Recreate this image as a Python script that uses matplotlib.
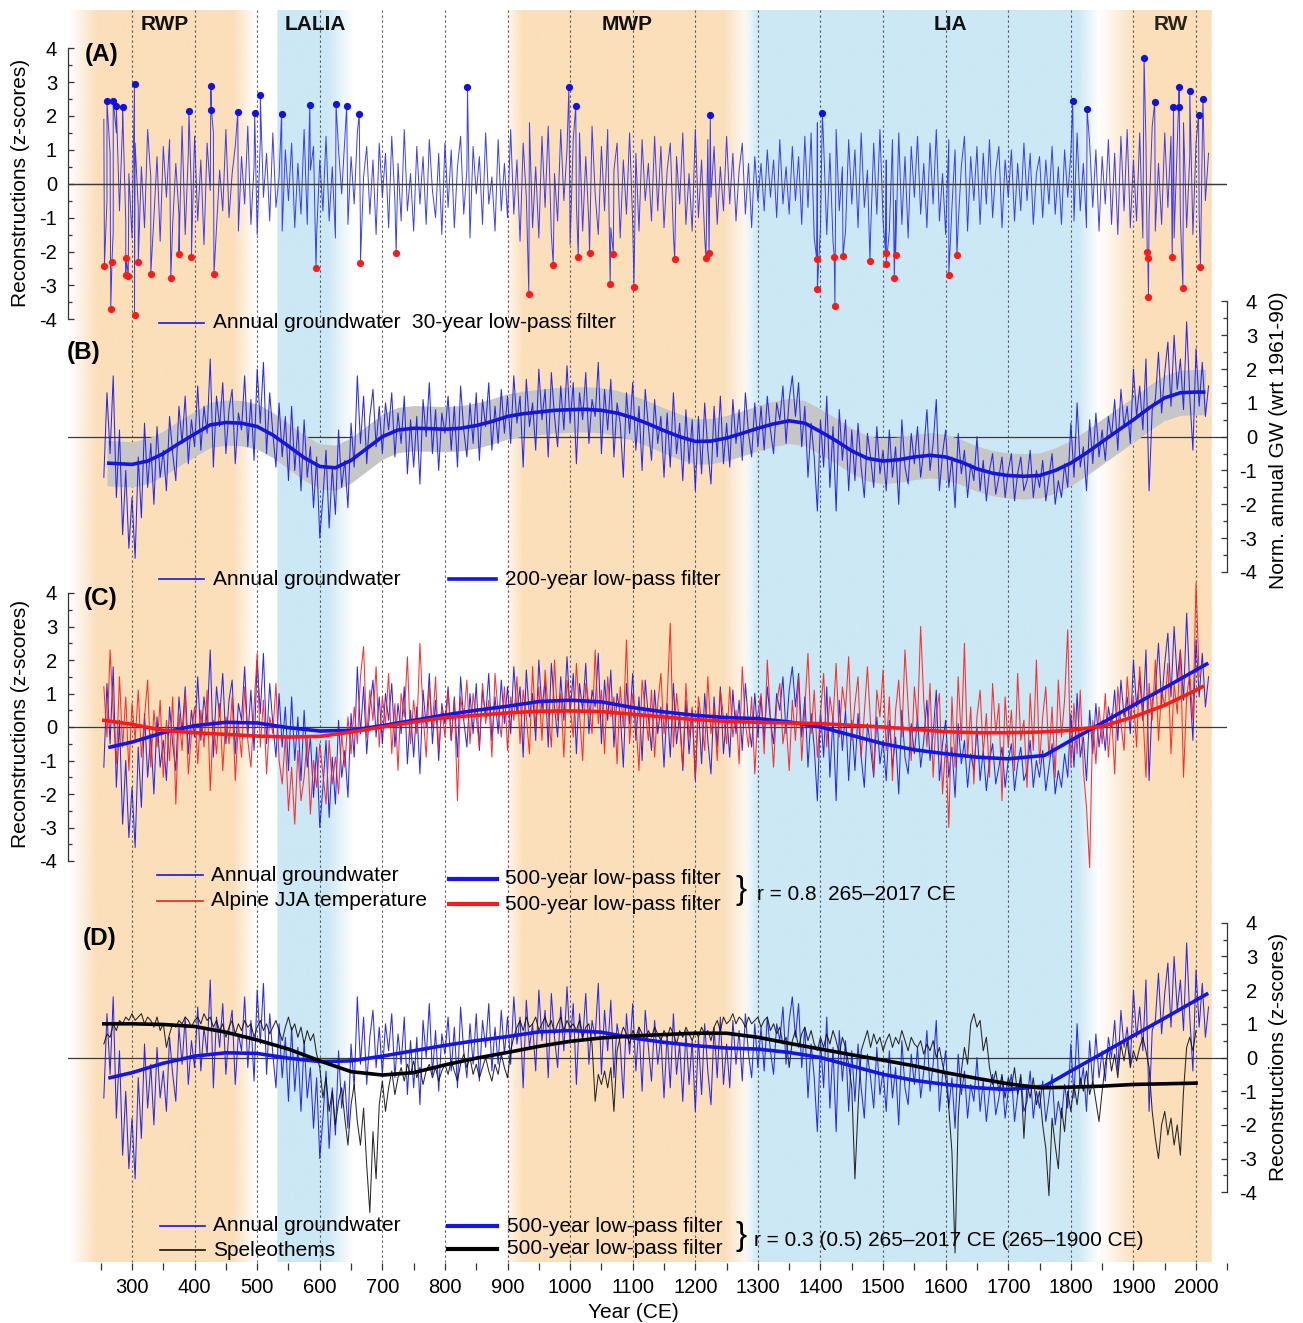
import numpy as np
import matplotlib
matplotlib.use('Agg')
import matplotlib.pyplot as plt
from matplotlib.colors import to_rgb
from matplotlib.lines import Line2D

plt.rcParams['font.family'] = ['Liberation Sans', 'DejaVu Sans']
plt.rcParams['axes.unicode_minus'] = False

# ---------------- DATA ----------------
START = 255   # first year of the 5-year sampled series
STEP = 5

# Panel A: high-pass annual groundwater (z-scores), sampled every 5 years
gw_hp = [
 1.9, -0.5, 0.9, -1.4, 1.5, -0.8, 1.8, -1.1, 0.3, -1.6,
 1.2, -0.7, 0.5, -1.3, 1.6, 0.2, -1.0, 0.8, -1.7, 1.1,
 -0.4, 1.3, -1.2, 0.6, -0.9, 1.7, -1.5, 0.9, -0.3, 1.4,
 -1.1, 0.7, -1.8, 1.2, -0.2, 1.5, -1.3, 0.4, -0.8, 1.6,
 -1.0, 0.3, 1.1, -1.4, 0.8, -0.6, 1.7, -1.2, 0.5, -1.5,
 1.3, -0.4, 0.9, -1.1, 1.5, -0.7, 0.2, -1.4, 1.0, -0.5,
 1.2, -1.3, 0.6, -0.9, 1.6, -1.2, 0.4, 1.1, -1.5, 0.7,
 -0.8, 1.4, -1.1, 0.5, -1.6, 1.0, -0.3, 1.3, -1.2, 0.8,
 -0.6, 1.5, -1.4, 0.2, 1.1, -0.9, 0.7, -1.5, 1.2, -0.4,
 0.9, -1.3, 1.4, -0.5, 0.6, -1.1, 1.6, -0.8, 0.3, -1.4,
 1.1, -0.6, 0.8, -1.2, 1.3, -0.2, -1.0, 0.9, -1.5, 1.2,
 -0.7, 1.0, -1.3, 0.5, 1.4, -0.9, 0.4, -1.6, 1.1, -0.3,
 0.8, -1.2, 1.5, -0.6, 0.2, -1.4, 1.3, -0.8, 0.6, -1.0,
 1.6, -0.9, 0.7, -1.7, 1.2, -0.4, 1.8, -1.3, 0.5, -1.6,
 1.4, -0.7, 1.7, -1.5, 0.3, -1.1, 1.6, -0.5, 1.0, -1.8,
 1.3, -0.6, 1.5, -1.4, 0.8, -1.2, 1.7, -0.3, -1.5, 1.1,
 -0.8, 1.6, -1.3, 0.4, 1.2, -1.6, 0.7, -0.9, 1.5, -1.2,
 0.9, -1.4, 1.3, -0.5, 0.6, -1.1, 1.4, -0.8, 1.1, -1.3,
 0.4, 1.2, -1.5, 0.8, -0.6, 1.5, -1.2, 0.3, -1.4, 1.6,
 -1.0, 0.7, -1.6, 1.3, -0.4, 1.1, -1.2, 0.5, -0.8, 1.4,
 -0.6, 0.9, -1.1, 0.4, 1.2, -0.9, 0.6, -1.3, 0.8, -0.5,
 0.6, -0.8, 1.0, -0.4, 0.7, -1.0, 1.3, -0.6, 0.5, -0.9,
 1.1, -0.5, 0.8, -1.2, 1.4, -0.7, 1.5, -1.6, 1.8, -1.3,
 1.2, -1.5, 0.9, -1.7, 1.6, -0.8, 0.5, -1.4, 1.3, -0.6,
 1.0, -1.3, 1.5, -0.7, 0.4, -1.5, 1.2, -0.9, 1.6, -1.1,
 0.7, -1.4, 1.3, -0.5, 1.5, -1.2, 0.8, -1.6, 1.1, -0.4,
 1.4, -0.9, 0.6, -1.3, 1.2, -0.6, 1.6, -1.1, 0.3, -1.5,
 1.3, -0.7, 1.0, -1.2, 0.5, 1.4, -1.4, 0.8, -0.5, 1.1,
 -1.2, 0.9, -0.6, 1.3, -1.0, 0.4, 1.1, -1.3, 0.7, -0.4,
 1.0, -1.1, 0.6, -0.8, 1.2, -0.5, 0.9, -1.2, 0.3, 0.8,
 -1.0, 0.7, -0.6, 1.1, -0.9, 0.5, -1.2, 1.0, -0.4, 0.9,
 -1.1, 1.5, -0.8, 0.6, -1.3, 1.2, -0.7, 1.0, -1.4, 0.8,
 -0.6, 1.3, -1.2, 0.9, -1.5, 1.4, -0.8, 1.6, -1.3, 0.7,
 -1.1, 1.5, -1.6, 1.2, -0.9, 1.7, -1.4, 0.6, -1.2, 1.5,
 -0.7, 1.4, -1.6, 1.1, -1.0, 1.8, -1.3, 0.8, -1.5, 1.2,
 -0.9, 1.4, -0.5, 0.9]

# Panel A extremes
wet_years = [260, 270, 275, 285, 304, 391, 426, 427, 469, 496, 505, 539, 584, 626,
             643, 663, 836, 998, 1009, 1224, 1403, 1803, 1826, 1917, 1934, 1964,
             1972, 1973, 1990, 2004, 2011]
wet_vals = [2.45, 2.45, 2.3, 2.25, 2.95, 2.14, 2.87, 2.18, 2.11, 2.08, 2.61, 2.07,
            2.32, 2.34, 2.3, 2.05, 2.85, 2.85, 2.28, 2.04, 2.1, 2.44, 2.19, 3.72,
            2.4, 2.27, 2.27, 2.85, 2.74, 2.04, 2.49]
dry_years = [256, 266, 268, 290, 291, 294, 304, 310, 330, 362, 375, 395, 431, 594,
             665, 722, 934, 973, 1013, 1031, 1064, 1069, 1102, 1167, 1217, 1222,
             1394, 1395, 1422, 1423, 1436, 1479, 1504, 1505, 1518, 1520, 1605,
             1618, 1922, 1923, 1924, 1962, 1979, 2007]
dry_vals = [-2.42, -3.7, -2.3, -2.7, -2.2, -2.72, -3.87, -2.32, -2.67, -2.79, -2.06,
            -2.16, -2.67, -2.5, -2.35, -2.04, -3.24, -2.39, -2.17, -2.03, -2.97,
            -2.06, -3.04, -2.23, -2.2, -2.05, -2.23, -3.12, -2.15, -3.61, -2.13,
            -2.28, -2.05, -2.37, -2.79, -2.11, -2.7, -2.11, -2.0, -2.19, -3.35,
            -2.17, -3.07, -2.47]

# Annual groundwater (panels B-D), sampled every 5 years
gw = [
 -1.2, 1.3, -0.5, 1.8, -1.8, 0.2, -2.9, -1.0, -3.3, -1.8,
 -3.6, -0.6, -2.4, 0.4, -1.5, -0.2, -2.0, 0.3, -1.2, -0.4,
 -1.6, 0.6, -0.5, -1.3, 0.9, -0.2, 1.2, -0.8, 0.5, -0.3,
 1.5, -0.4, 0.9, 0.1, 2.3, -0.9, 1.2, 0.3, 1.6, -0.5,
 0.8, 1.4, -0.8, 0.7, 0.2, 1.8, -0.3, 1.1, -0.7, 2.0,
 0.4, 2.2, -0.5, 1.3, 0.1, -0.9, 1.0, -0.6, 0.6, -1.3,
 0.9, -1.0, 0.3, -1.6, 0.5, -1.2, -0.3, -2.1, -0.6, -3.0,
 -1.8, -0.4, -2.7, -0.9, -2.3, 0.2, -1.5, -0.7, -2.1, 0.4,
 -0.9, 1.8, -0.2, 1.2, -0.8, 0.6, 1.4, -0.3, 0.9, -0.5,
 1.0, 0.2, 1.3, -0.6, 0.7, -0.2, 1.2, -1.1, 0.5, -0.9,
 0.6, -1.4, 1.1, 0.0, 1.6, -0.5, 0.8, -1.0, 0.7, 0.1,
 1.2, -0.4, 0.9, -0.9, 1.5, 0.2, -0.6, 1.0, -0.2, 1.3,
 -0.7, 1.1, 0.3, 1.6, -0.4, 0.9, -0.2, 1.4, 0.1, 1.2,
 -0.2, 1.8, 0.4, 1.2, -0.9, 1.7, 0.3, 1.0, -0.4, 2.0,
 0.5, 1.4, -0.6, 1.9, 0.6, -0.3, 1.5, 0.2, 2.1, 0.4,
 1.6, -0.8, 1.3, 0.5, 1.9, -0.2, 1.1, 0.6, 2.2, -0.5,
 1.4, 0.2, 1.7, -0.6, 1.0, 0.4, -1.2, 1.3, 0.1, 1.6,
 -0.4, 0.9, -1.0, 1.4, 0.3, -0.7, 1.1, -0.2, 0.6, -1.2,
 0.7, -0.9, 1.3, -0.5, 0.4, -1.3, 0.8, -0.8, 0.5, -1.6,
 0.6, -1.1, 1.0, -0.4, -1.4, 0.9, -0.6, 1.2, -0.8, 0.4,
 -0.9, 1.1, -0.2, 0.8, -0.7, 1.3, 0.1, -0.6, 1.0, -0.3,
 0.9, -0.4, 1.2, 0.2, -0.5, 1.0, 0.5, 1.5, -0.2, 1.1,
 1.8, 0.6, 1.6, -0.3, 0.9, -1.2, 0.4, -0.6, -2.2, 0.5,
 -0.9, 1.2, -1.5, 0.3, -2.2, 0.8, -0.7, 0.5, -1.6, 0.2,
 -1.3, 0.4, -0.9, -1.8, 0.1, -0.6, -1.5, 0.3, -1.1, -0.4,
 -1.6, 0.2, -1.2, -0.3, -2.0, 0.5, -0.9, -1.4, 0.1, -0.8,
 0.3, -1.2, -0.4, 0.8, -1.0, -0.2, 1.1, -1.6, -0.5, 0.2,
 -1.5, -0.6, -2.1, 0.1, -1.1, -0.4, -1.8, -0.8, -1.3, 0.0,
 -1.6, -0.7, -1.9, -1.0, -0.5, -1.7, -1.2, -0.6, -1.8, -1.0,
 -0.5, -1.9, -1.1, -0.6, -1.6, -1.3, -0.4, -1.8, -1.0, -1.5,
 -0.7, -1.9, -1.2, -0.5, -2.0, -1.3, -1.8, -0.8, -1.5, 0.4,
 -1.2, 1.0, -0.9, -0.3, -1.6, 0.5, -0.8, 0.7, -0.6, 0.2,
 -0.7, 0.6, 0.0, 1.1, -0.4, 1.4, 0.3, 0.9, -0.2, 2.0,
 0.6, 1.5, 0.2, 2.3, -1.6, 0.8, 1.1, 2.5, 0.7, 1.9,
 2.8, 0.9, 3.0, 1.4, 2.3, 0.8, 3.4, 1.2, -0.4, 2.6,
 0.9, 2.2, 0.6, 1.5]

# Alpine JJA temperature (panel C), sampled every 5 years
temp = [
 1.2, -0.3, 2.3, 0.4, -1.1, 1.5, -0.6, 0.9, -1.3, 0.7,
 -0.4, 1.1, -0.9, 0.3, 1.4, -1.2, 0.5, -0.6, 0.8, -1.5,
 0.2, -1.0, 0.9, -2.3, 0.4, -0.7, 1.0, -1.4, -0.2, 0.6,
 -1.1, 0.5, -0.6, 1.1, -1.9, 0.2, -0.8, 0.7, -1.3, 0.3,
 -0.5, 0.9, -1.6, 0.1, -0.9, 1.2, -0.4, -1.2, 0.6, 2.2,
 -0.6, 0.8, -1.4, 0.3, -0.2, 1.3, -1.0, -1.7, -0.3, -2.5,
 -1.2, -2.9, -0.7, -2.2, -1.5, -0.3, -2.6, -1.0, -1.8, -0.5,
 -1.4, -2.3, -0.4, -1.7, -0.9, -2.0, -0.2, -1.2, 0.3, -0.8,
 0.6, -0.5, 1.5, 2.4, -0.3, 1.1, 0.2, 1.8, -0.6, 0.9,
 0.1, 1.6, -0.8, 0.7, -1.3, 1.0, 0.3, 2.1, -0.5, 0.8,
 -0.2, 2.5, 0.4, -0.9, 1.2, 0.0, 1.5, -0.7, 0.6, -0.3,
 1.1, -0.4, 0.8, -2.2, 0.9, 0.2, 1.4, -0.5, 1.0, 0.3,
 -0.6, 1.3, 0.1, 0.8, -0.9, 1.6, 0.4, -0.3, 1.2, -0.7,
 0.9, 0.2, 1.5, -0.5, 1.1, 0.3, -0.8, 1.8, 0.0, 1.2,
 -0.4, 1.7, 0.5, -0.6, 2.0, 0.2, 1.0, -0.9, 1.4, 0.6,
 -0.3, 1.9, 0.4, -1.0, 1.3, 0.7, -0.2, 2.3, 0.1, 1.1,
 -0.8, 1.5, 0.3, 0.9, -1.1, 1.2, 0.0, 2.6, -0.5, 1.0,
 0.2, -1.3, 1.4, 0.5, -0.4, 1.1, -0.9, 0.7, 1.6, -0.2,
 0.8, 3.1, -0.6, 1.0, 0.1, -1.2, 1.3, -0.3, 0.6, -1.5,
 0.9, 0.2, -0.7, 1.5, -0.2, 0.6, -1.0, 1.1, 0.3, -0.5,
 1.2, -0.3, 0.5, -1.1, 1.8, 0.1, -0.6, 0.9, -1.4, 0.4,
 1.0, -0.8, 2.0, 0.3, -1.2, 0.7, 1.3, -0.5, 0.2, -1.3,
 0.8, -0.4, 1.5, -1.0, 0.6, 2.2, -0.2, 1.1, -0.9, 0.4,
 1.6, -0.6, 0.9, 0.2, 1.9, -0.3, 1.2, 0.5, 2.1, -0.4,
 0.7, 1.5, -0.9, 0.4, 1.8, 0.1, -1.4, 1.1, 0.3, 1.7,
 -0.7, 0.9, -1.6, 0.5, 1.4, -0.3, 2.3, 0.6, -1.0, 1.2,
 0.1, 3.0, 0.8, -0.6, 1.3, -1.5, 0.4, 1.0, -2.0, -0.5,
 -3.0, 0.9, -1.2, 1.5, -0.4, 2.5, -0.9, 0.6, -1.7, 0.3,
 1.1, -0.8, 0.4, -1.5, 1.3, -0.2, 0.7, -2.2, 0.9, -0.6,
 0.5, -1.3, 1.6, -0.4, 0.2, -1.8, 1.0, -0.7, 2.0, -1.1,
 0.3, 1.2, -0.9, 0.6, -1.5, 1.4, -0.3, 0.8, 2.9, -1.2,
 0.7, -0.8, 1.1, -1.3, -2.4, -4.2, 0.2, -1.1, 0.6, -0.5,
 1.0, -0.9, 0.4, -1.4, 1.2, 0.1, -0.7, 1.5, 0.3, 0.9,
 -0.6, 1.8, 0.5, -1.5, 1.3, 0.2, 2.0, -0.4, 1.1, 0.6,
 1.9, -0.8, 1.3, 0.4, 2.3, -1.5, 0.9, 1.6, 0.2, 4.3,
 1.5]

# Speleothems (panel D), sampled every 5 years
speleo = [
 0.4, 0.7, 0.6, 1.0, 0.8, 1.1, 1.0, 1.2, 1.1, 1.3,
 1.1, 1.2, 1.3, 1.0, 1.2, 1.1, 0.9, 1.2, 0.8, 1.0,
 0.3, 0.7, 1.0, 0.9, 1.1, 1.0, 1.2, 1.1, 0.9, 1.1,
 1.2, 1.0, 1.3, 1.1, 1.2, 0.9, 1.1, 0.8, 1.0, 0.6,
 0.9, 1.1, 0.7, 1.0, 0.8, 1.1, 0.9, 1.0, 0.6, 0.9,
 1.1, 0.8, 1.0, 0.7, 0.9, 1.1, 0.8, 0.5, 0.9, 1.2,
 0.8, 1.0, 0.6, 0.9, 0.4, 0.8, 0.5, 0.7, 0.1, -0.3,
 -1.2, -0.6, -1.6, -1.0, -2.0, -1.3, -0.9, -1.8, -2.6, -1.4,
 -0.8, -1.9, -2.6, -1.5, -3.2, -4.6, -2.2, -3.6, -1.4, -0.7,
 -1.6, -0.9, -0.4, -1.1, -0.6, -0.3, -0.7, -0.2, -0.5, -0.1,
 -0.6, -0.3, -0.8, -0.4, -0.2, -0.6, -0.3, -0.7, -0.4, -0.2,
 -0.5, -0.1, -0.4, -0.7, -0.2, 0.1, -0.3, 0.0, -0.5, -0.2,
 -0.6, -0.3, 0.0, -0.4, -0.7, -0.2, -0.5, 0.1, -0.3, -0.6,
 0.2, 0.6, 0.9, 1.1, 0.8, 1.2, 0.9, 1.0, 1.2, 0.8,
 1.0, 1.2, 0.9, 1.1, 0.7, 1.0, 1.2, 0.8, 1.1, 0.9,
 1.0, 0.8, 1.1, 0.6, 0.9, 1.0, 0.4, -1.3, -0.5, -0.8,
 -0.4, -0.9, -0.3, -1.6, 0.2, 0.6, 0.9, 0.7, 0.4, 0.8,
 0.6, 0.9, 0.7, 0.5, 0.8, 0.6, 0.9, 0.7, 0.5, 0.8,
 0.6, 0.9, 0.7, 0.4, 0.8, 0.6, 0.9, 0.7, 0.5, 0.8,
 0.6, 0.9, 0.7, 0.8, 0.5, 0.9, 1.1, 0.8, 1.2, 1.0,
 1.1, 1.3, 1.0, 1.2, 1.1, 0.9, 1.2, 1.0, 1.1, 1.2,
 0.9, 1.1, 1.2, 0.8, 1.0, 0.7, 0.9, 0.4, 0.6, -0.3,
 0.5, 0.8, 0.3, 0.7, 0.9, 0.5, 0.8, 0.4, 0.2, 0.6,
 0.3, 0.7, 0.4, 0.8, 0.5, 0.1, 0.6, 0.3, -0.2, -0.9,
 -3.6, -1.5, 0.2, 0.5, 0.8, 0.3, 0.7, 0.4, 0.6, 0.2,
 0.5, 0.7, 0.3, 0.6, 0.4, 0.8, 0.5, 0.2, 0.6, 0.4,
 0.3, 0.5, 0.1, 0.4, 0.2, 0.5, 0.0, 0.3, -0.2, -0.6,
 -1.5, -2.8, -5.8, -1.8, -0.4, 0.3, -0.2, 1.0, 1.3, 0.9,
 1.1, 0.2, 0.6, -0.3, -0.8, -0.4, -1.0, -0.5, -1.2, -0.6,
 -0.9, -0.3, -1.1, -0.5, -2.4, -0.8, -1.2, -0.6, -1.4, -1.0,
 -2.0, -2.7, -4.1, -1.8, -2.6, -3.3, -1.5, -2.2, -1.0, -1.6,
 -0.8, -1.4, -0.6, -1.0, -0.4, -1.1, -0.7, -1.3, -1.9, -1.0,
 -0.2, 0.3, -0.4, 0.1, -0.6, 0.4, -0.1, 0.5, -0.3, 0.2,
 -0.1, 0.3, 0.6, 0.2, -0.3, -1.6, -2.4, -3.0, -2.0, -1.6,
 -2.3, -1.8, -2.6, -2.0, -2.9, -1.0, 0.3, 0.6, 0.2, 0.8]

# 200-year low-pass filter of groundwater (panel B)
lp200_years = [260, 300, 325, 350, 375, 400, 425, 450, 475, 500, 525, 550, 575, 600,
               625, 650, 675, 700, 725, 750, 775, 800, 825, 850, 875, 900, 925, 950,
               975, 1000, 1025, 1050, 1075, 1100, 1125, 1150, 1175, 1200, 1225, 1250,
               1275, 1300, 1325, 1350, 1375, 1400, 1425, 1450, 1475, 1500, 1525, 1550,
               1575, 1600, 1625, 1650, 1675, 1700, 1725, 1750, 1775, 1800, 1825, 1850,
               1875, 1900, 1925, 1950, 1975, 2000, 2015]
lp200_vals = [-0.78, -0.82, -0.72, -0.5, -0.2, 0.08, 0.35, 0.42, 0.4, 0.3, 0.05, -0.28,
              -0.62, -0.88, -0.92, -0.7, -0.35, 0.0, 0.2, 0.25, 0.24, 0.22, 0.25, 0.33,
              0.45, 0.6, 0.68, 0.73, 0.78, 0.8, 0.81, 0.78, 0.7, 0.56, 0.38, 0.18, 0.0,
              -0.14, -0.13, -0.04, 0.1, 0.25, 0.38, 0.47, 0.4, 0.15, -0.12, -0.42, -0.64,
              -0.72, -0.68, -0.6, -0.55, -0.6, -0.75, -0.95, -1.08, -1.15, -1.17, -1.15,
              -1.0, -0.78, -0.48, -0.15, 0.18, 0.5, 0.85, 1.15, 1.3, 1.32, 1.32]
lp200_band = 0.67

# 500-year low-pass filters (panels C, D)
gw500_years = [265, 300, 350, 400, 450, 500, 550, 600, 650, 700, 750, 800, 850, 900,
               950, 1000, 1050, 1100, 1150, 1200, 1250, 1300, 1350, 1400, 1450, 1500,
               1550, 1600, 1650, 1700, 1758, 1800, 1850, 1900, 1950, 2000, 2017]
gw500_vals = [-0.6, -0.45, -0.17, 0.04, 0.14, 0.12, -0.02, -0.12, -0.1, 0.04, 0.2,
              0.36, 0.5, 0.62, 0.76, 0.8, 0.75, 0.58, 0.45, 0.35, 0.28, 0.25, 0.15,
              0.0, -0.25, -0.5, -0.68, -0.8, -0.9, -0.95, -0.85, -0.4, 0.12, 0.65,
              1.17, 1.7, 1.88]
t500_years = [255, 300, 350, 400, 450, 500, 550, 600, 650, 700, 750, 800, 850, 900,
              950, 1000, 1050, 1100, 1150, 1200, 1250, 1300, 1350, 1400, 1450, 1500,
              1550, 1600, 1650, 1700, 1750, 1800, 1850, 1900, 1950, 2000, 2010]
t500_vals = [0.2, 0.08, -0.1, -0.17, -0.22, -0.27, -0.3, -0.28, -0.15, 0.0, 0.15,
             0.28, 0.35, 0.42, 0.47, 0.48, 0.46, 0.38, 0.3, 0.22, 0.17, 0.14, 0.12,
             0.1, 0.05, 0.0, -0.07, -0.14, -0.17, -0.17, -0.15, -0.1, 0.02, 0.3, 0.65,
             1.1, 1.2]
sp500_years = [255, 300, 350, 400, 450, 500, 550, 600, 650, 700, 750, 800, 850, 900,
               950, 1000, 1050, 1100, 1150, 1200, 1250, 1300, 1350, 1400, 1450, 1500,
               1550, 1600, 1650, 1700, 1750, 1800, 1850, 1900, 1950, 2000]
sp500_vals = [1.0, 1.0, 0.98, 0.92, 0.75, 0.52, 0.25, -0.1, -0.42, -0.52, -0.45, -0.22,
              -0.02, 0.15, 0.33, 0.48, 0.58, 0.64, 0.68, 0.72, 0.72, 0.6, 0.42, 0.25,
              0.08, -0.08, -0.25, -0.45, -0.62, -0.78, -0.9, -0.88, -0.85, -0.8, -0.78,
              -0.76]

# Climate periods: (label, fade-in start, full start, full end, fade-out end, colour)
periods = [
    ('RWP', 200, 245, 462, 500, '#fbdfba'),
    ('LALIA', 532, 533, 612, 655, '#cce8f5'),
    ('MWP', 893, 925, 1245, 1288, '#fbdfba'),
    ('LIA', 1278, 1300, 1812, 1845, '#cce8f5'),
    ('RW', 1845, 1905, 2025, 2025.5, '#fbdfba'),
]
period_label_x = [165, 315, 627, 950, 1171]

# ---------------- LAYOUT ----------------
W, H = 1303, 1323
X300, PPY = 132.0, 0.6259     # pixel of year 300, pixels per year
XL = (198, 2050)
L = 7.0

def xpx(yr):
    return X300 + (yr - 300) * PPY

fig = plt.figure(figsize=(W / 100, H / 100), dpi=100)

def T(x, y, s, **kw):
    return fig.text(x / W, 1 - y / H, s, **kw)

def legline(x1, x2, y, **kw):
    fig.add_artist(Line2D([x1 / W, x2 / W], [1 - y / H, 1 - y / H], **kw))

# background: period shading + dotted century lines
bg = fig.add_axes([0, 0, 1, 1])
for (lab, a, b, c, d, col) in periods:
    xs = np.linspace(a, d, 800)
    al = np.ones_like(xs)
    if b > a:
        al = np.where(xs < b, (xs - a) / (b - a), al)
    if d > c:
        al = np.where(xs > c, (d - xs) / (d - c), al)
    al = np.clip(al, 0, 1)
    img = np.zeros((1, len(xs), 4))
    img[0, :, :3] = to_rgb(col)
    img[0, :, 3] = al
    bg.imshow(img, extent=[a, d, 1262, 10], aspect='auto', interpolation='bilinear', zorder=0)
bg.vlines(np.arange(300, 2001, 100), 10, 1262, colors='#555555', linestyles=(0, (2, 2.5)),
          lw=0.8, zorder=1)
bg.set_xlim(300 - X300 / PPY, 300 + (W - X300) / PPY)
bg.set_ylim(H, 0)
bg.axis('off')

def panel(y0, u, side):
    bottom = 1 - (y0 + L * u) / H
    height = 2 * L * u / H
    left = xpx(XL[0]) / W
    width = (xpx(XL[1]) - xpx(XL[0])) / W
    ax = fig.add_axes([left, bottom, width, height])
    ax.set_xlim(*XL)
    ax.set_ylim(-L, L)
    ax.patch.set_alpha(0)
    for s in ['top', 'bottom', 'left', 'right']:
        ax.spines[s].set_visible(False)
    ax.spines[side].set_visible(True)
    ax.spines[side].set_bounds(-4, 4)
    ax.spines[side].set_color('#333333')
    ax.spines[side].set_linewidth(0.9)
    ax.set_xticks([])
    ax.set_yticks(range(-4, 5))
    ax.set_yticks(np.arange(-4, 4.01, 0.5), minor=True)
    if side == 'right':
        ax.yaxis.tick_right()
        pad = 21.5
    else:
        pad = 8
    ax.tick_params(axis='y', which='major', direction='in', length=4.5, width=0.9,
                   color='#333333', labelsize=14.5, pad=pad)
    ax.tick_params(axis='y', which='minor', direction='in', length=2.6, width=0.9,
                   color='#333333')
    if side == 'right':
        for t in ax.get_yticklabels():
            t.set_ha('right')
    ax.axhline(0, color='#3a3a3a', lw=0.9, zorder=0.5)
    return ax

yrs = lambda v: START + STEP * np.arange(len(v))

BLUE = '#1414ee'
RED = '#ff1a1a'

# ---- Panel A ----
axA = panel(183.7, 33.9, 'left')
ay = np.concatenate([yrs(gw_hp), wet_years, dry_years]).astype(float)
av = np.concatenate([gw_hp, wet_vals, dry_vals]).astype(float)
o = np.argsort(ay, kind='stable')
axA.plot(ay[o], av[o], color='#2a2aee', lw=0.7, alpha=0.9, zorder=2)
axA.axhline(0, color='#3a3a3a', lw=0.9, zorder=3)
axA.plot(wet_years, wet_vals, 'o', color='#1010e6', ms=5.2, mew=0, zorder=4)
axA.plot(dry_years, dry_vals, 'o', color='#ff1a1a', ms=5.2, mew=0, zorder=4)

# ---- Panel B ----
axB = panel(436.7, 33.8, 'right')
lpy = np.array(lp200_years, float)
lpv = np.array(lp200_vals, float)
axB.fill_between(lpy, lpv - lp200_band, lpv + lp200_band, color='#c6c6c6', lw=0, zorder=1)
axB.plot(yrs(gw), gw, color=BLUE, lw=0.75, alpha=0.9, zorder=2)
axB.plot(lpy, lpv, color='#1515e0', lw=2.6, zorder=3, solid_capstyle='butt')

# ---- Panel C ----
axC = panel(727.0, 33.5, 'left')
axC.plot(yrs(gw), gw, color=BLUE, lw=0.75, alpha=0.9, zorder=2)
axC.plot(yrs(temp), temp, color=RED, lw=0.75, alpha=0.9, zorder=2.5)
axC.plot(gw500_years, gw500_vals, color='#1515e6', lw=2.6, zorder=3)
axC.plot(t500_years, t500_vals, color='#ff1a1a', lw=2.6, zorder=3.5)

# ---- Panel D ----
axD = panel(1057.5, 33.7, 'right')
axD.plot(yrs(gw), gw, color=BLUE, lw=0.75, alpha=0.9, zorder=2)
axD.plot(yrs(speleo), speleo, color='#111111', lw=0.75, alpha=0.9, zorder=2.5)
axD.plot(gw500_years, gw500_vals, color='#1515e6', lw=2.6, zorder=3)
axD.plot(sp500_years, sp500_vals, color='#000000', lw=2.6, zorder=3.5)

# ---- bottom x axis ----
axx = fig.add_axes([xpx(XL[0]) / W, 1 - 1263 / H, (xpx(XL[1]) - xpx(XL[0])) / W, 0.0001])
axx.set_xlim(*XL)
axx.patch.set_alpha(0)
for s in ['top', 'bottom', 'left', 'right']:
    axx.spines[s].set_visible(False)
axx.set_yticks([])
xt = np.arange(250, 2051, 50)
axx.set_xticks(xt)
axx.set_xticklabels([str(t) if (t % 100 == 0 and 300 <= t <= 2000) else '' for t in xt])
axx.tick_params(axis='x', direction='out', length=5, width=0.9, color='#333333',
                labelsize=14.5, pad=6)

# ---------------- TEXT ----------------
T(633, 1312, 'Year (CE)', fontsize=15, ha='center', va='center')
T(21, 183, 'Reconstructions (z-scores)', fontsize=15, rotation=90, ha='center', va='center')
T(21, 724, 'Reconstructions (z-scores)', fontsize=15, rotation=90, ha='center', va='center')
T(1279, 440, 'Norm. annual GW (wrt 1961-90)', fontsize=15, rotation=90, ha='center', va='center')
T(1279, 1057, 'Reconstructions (z-scores)', fontsize=15, rotation=90, ha='center', va='center')

for (p, xc) in zip(periods, period_label_x):
    T(xc, 25, p[0], fontsize=15, fontweight='bold', ha='center', va='center',
      color='#2a2418' if p[0] == 'RW' else '#111111')

for lab, x, y in [('(A)', 102, 55), ('(B)', 84, 352), ('(C)', 101, 598), ('(D)', 100, 938)]:
    T(x, y, lab, fontsize=17.5, fontweight='bold', ha='center', va='center')

# legends
FS = 15
legline(159, 204, 322.7, color=BLUE, lw=1.2)
T(213, 322.7, 'Annual groundwater  30-year low-pass filter', fontsize=FS, va='center')

legline(159, 204, 579.3, color=BLUE, lw=1.2)
T(213, 579.3, 'Annual groundwater', fontsize=FS, va='center')
legline(449, 496, 579.3, color='#1515e0', lw=2.6)
T(505, 579.3, '200-year low-pass filter', fontsize=FS, va='center')

legline(157, 203, 875.3, color=BLUE, lw=1.2)
T(211, 875.3, 'Annual groundwater', fontsize=FS, va='center')
legline(157, 203, 901, color=RED, lw=1.2)
T(211, 901, 'Alpine JJA temperature', fontsize=FS, va='center')
legline(449, 497, 879, color='#1515e6', lw=3)
T(505, 879, '500-year low-pass filter', fontsize=FS, va='center')
legline(449, 497, 904, color='#ff1a1a', lw=3)
T(505, 904, '500-year low-pass filter', fontsize=FS, va='center')
T(741, 891, '}', fontsize=24, ha='center', va='center')
T(757, 894, 'r = 0.8  265\u20132017 CE', fontsize=FS, va='center')

legline(160, 205, 1225.7, color=BLUE, lw=1.2)
T(213, 1225.7, 'Annual groundwater', fontsize=FS, va='center')
legline(160, 205, 1250, color='#111111', lw=1.2)
T(213, 1250, 'Speleothems', fontsize=FS, va='center')
legline(448, 497, 1226, color='#1515e6', lw=3)
T(507, 1226, '500-year low-pass filter', fontsize=FS, va='center')
legline(448, 497, 1249, color='#000000', lw=3)
T(507, 1249, '500-year low-pass filter', fontsize=FS, va='center')
T(741, 1237, '}', fontsize=24, ha='center', va='center')
T(754, 1240, 'r = 0.3 (0.5) 265\u20132017 CE (265\u20131900 CE)', fontsize=FS, va='center')

fig.savefig('out.png', dpi=100)
